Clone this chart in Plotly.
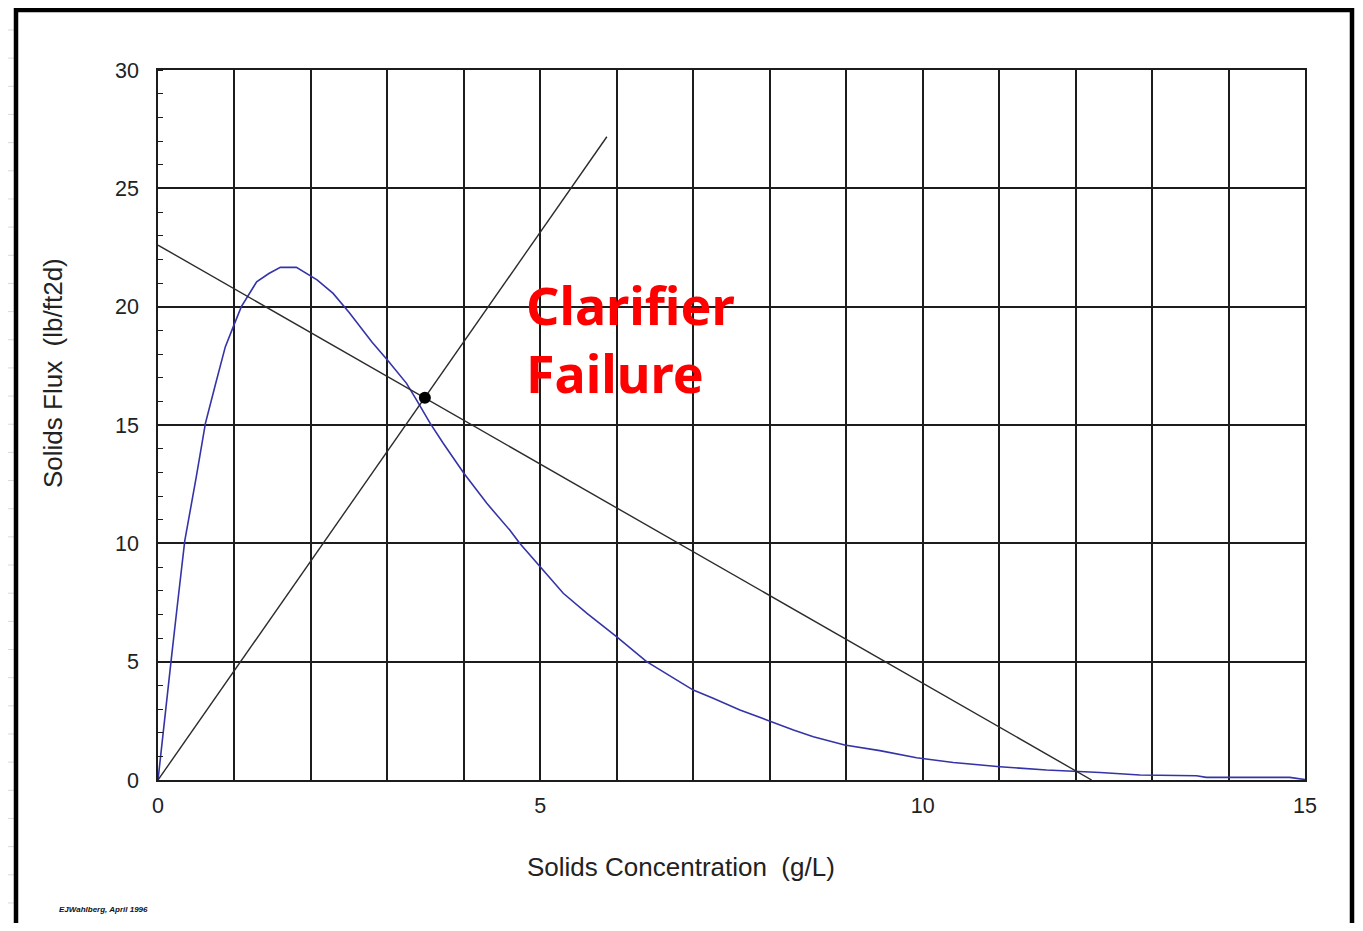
import plotly.graph_objects as go

# ---- data ----
conc = [0, 0.1, 0.17, 0.25, 0.35, 0.5, 0.62, 0.75, 0.88, 0.99, 1.09, 1.29, 1.45, 1.6,
        1.81, 2.08, 2.29, 2.5, 2.64, 2.8, 3.0, 3.25, 3.38, 3.56, 3.73, 4.0, 4.3, 4.47,
        4.6, 4.73, 5.0, 5.3, 5.61, 6.0, 6.39, 6.78, 7.0, 7.26, 7.61, 7.96, 8.31, 8.57,
        8.98, 9.44, 9.92, 10.4, 11.01, 11.62, 12.32, 12.84, 13.58, 13.71, 14.8, 15.0]
flux = [0, 3.1, 5.0, 7.3, 10.1, 12.8, 15.07, 16.7, 18.3, 19.2, 20.0, 21.05, 21.4, 21.66,
        21.66, 21.13, 20.56, 19.75, 19.15, 18.5, 17.75, 16.76, 16.06, 15.07, 14.23, 12.96,
        11.69, 11.06, 10.56, 10.0, 9.01, 7.89, 7.04, 6.05, 5.0, 4.23, 3.8, 3.45, 2.96,
        2.54, 2.11, 1.83, 1.48, 1.24, 0.94, 0.74, 0.56, 0.42, 0.32, 0.21, 0.18, 0.11,
        0.11, 0.02]

underflow_x = [0, 12.21]
underflow_y = [22.6, 0]
overflow_x = [0, 5.87]
overflow_y = [0, 27.18]
state_x = [3.49]
state_y = [16.15]

x_ticks = [0, 5, 10, 15]
y_ticks = [0, 5, 10, 15, 20, 25, 30]

OFF = 8  # page body margin
W, H = 1347, 915
ML, MT = 150, 62
PW, PH = 1147, 710
MR = W - ML - PW
MB = H - MT - PH


def px(xs):
    """screen x pixel -> paper x"""
    return (xs - OFF - ML) / PW


def py(ys):
    """screen y pixel -> paper y"""
    return (MT + PH - (ys - OFF)) / PH


fig = go.Figure()
fig.add_trace(go.Scatter(x=conc, y=flux, mode="lines",
                         line=dict(color="#3434a8", width=1.6), hoverinfo="skip"))
fig.add_trace(go.Scatter(x=underflow_x, y=underflow_y, mode="lines",
                         line=dict(color="#2b2b2b", width=1.4), hoverinfo="skip"))
fig.add_trace(go.Scatter(x=overflow_x, y=overflow_y, mode="lines",
                         line=dict(color="#2b2b2b", width=1.4), hoverinfo="skip"))
fig.add_trace(go.Scatter(x=state_x, y=state_y, mode="markers",
                         marker=dict(color="black", size=12), hoverinfo="skip"))

grid = "#1c1c1c"
tickfont = dict(family="Liberation Sans, Arial", size=21.5, color="#222222")
fig.update_xaxes(range=[0, 15], tickvals=x_ticks, showgrid=True, gridcolor=grid,
                 gridwidth=1.6, minor=dict(dtick=1, showgrid=True, gridcolor=grid,
                                           gridwidth=1.6),
                 showline=True, linecolor=grid, linewidth=1.6, mirror=True,
                 zeroline=False, ticks="", tickfont=tickfont, ticklabelstandoff=5)
fig.update_yaxes(range=[0, 30], tickvals=y_ticks, showgrid=True, gridcolor=grid,
                 gridwidth=1.6,
                 minor=dict(dtick=1, ticks="inside", ticklen=5, tickcolor=grid,
                            tickwidth=1.2, showgrid=False),
                 showline=True, linecolor=grid, linewidth=1.6, mirror=True,
                 zeroline=False, ticks="", tickfont=tickfont, ticklabelstandoff=13)

shapes = []
sheet = "#d9d9d9"
# spreadsheet grid left of the chart frame
for k in range(-1, 33):
    yy = 30 + 28.16 * k
    shapes.append(dict(type="line", xref="paper", yref="paper", x0=px(8), x1=px(14),
                       y0=py(yy), y1=py(yy), line=dict(color=sheet, width=1), layer="below"))
# thick chart frame (left, top, right edges; bottom is off-page)
frame = dict(color="black", width=4.5)
shapes.append(dict(type="line", xref="paper", yref="paper", x0=px(16), x1=px(16),
                   y0=py(8), y1=py(931), line=frame, layer="below"))
shapes.append(dict(type="line", xref="paper", yref="paper", x0=px(14), x1=px(1354),
                   y0=py(10), y1=py(10), line=frame, layer="below"))
shapes.append(dict(type="line", xref="paper", yref="paper", x0=px(1352), x1=px(1352),
                   y0=py(8), y1=py(931), line=frame, layer="below"))

annotations = [
    dict(text="Solids Concentration  (g/L)", xref="paper", yref="paper",
         x=px(681), y=py(867), showarrow=False, xanchor="center", yanchor="middle",
         font=dict(family="Liberation Sans, Arial", size=26, color="#222222")),
    dict(text="Solids Flux  (lb/ft2d)", xref="paper", yref="paper", textangle=-90,
         x=px(53), y=py(373), showarrow=False, xanchor="center", yanchor="middle",
         font=dict(family="Liberation Sans, Arial", size=26, color="#222222")),
    dict(text="<b>Clarifier<br>Failure</b>", xref="paper", yref="paper", align="left",
         x=px(524), y=py(338), showarrow=False, xanchor="left", yanchor="middle",
         font=dict(family="Noto Sans", size=52, color="#ff0000")),
    dict(text="<b><i>EJWahlberg, April 1996</i></b>", xref="paper", yref="paper",
         x=px(57), y=py(909), showarrow=False, xanchor="left", yanchor="middle",
         font=dict(family="Liberation Sans, Arial", size=8, color="#111111")),
]

fig.update_layout(width=W, height=H, margin=dict(l=ML, r=MR, t=MT, b=MB),
                  paper_bgcolor="white", plot_bgcolor="white", showlegend=False,
                  shapes=shapes, annotations=annotations)

fig.write_html("out.html")
